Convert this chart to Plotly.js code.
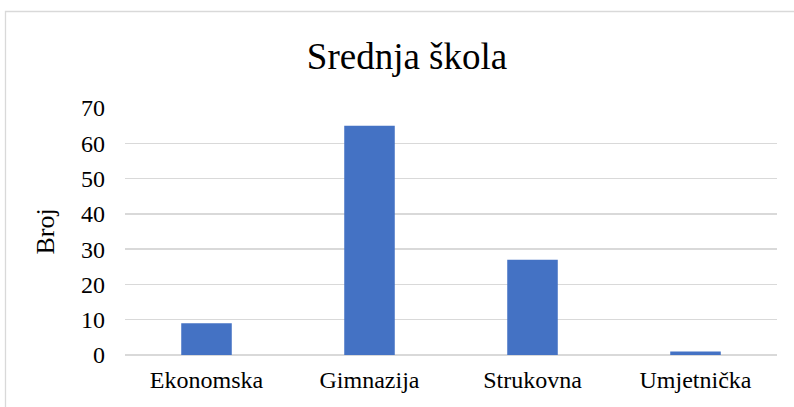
<!DOCTYPE html>
<html>
<head>
<meta charset="utf-8">
<script src="https://cdn.plot.ly/plotly-3.0.1.min.js"></script>
<style>html,body{margin:0;padding:0;background:#fff;}#chart{width:794px;height:407px;}</style>
</head>
<body>
<div id="chart"></div>
<script>
const categories = ["Ekonomska", "Gimnazija", "Strukovna", "Umjetnička"];
const counts = [9, 65, 27, 1];
const yTicks = [0, 10, 20, 30, 40, 50, 60, 70];

const SERIF = "Liberation Serif";
const W = 794, H = 407;
const m = {l: 125, r: 17, t: 108, b: 52};
const pw = W - m.l - m.r, ph = H - m.t - m.b;

const trace = {
  type: "bar",
  x: categories,
  y: counts,
  marker: {color: "#4472C4"},
  hoverinfo: "x+y"
};

const layout = {
  width: W, height: H,
  margin: m,
  paper_bgcolor: "#ffffff",
  plot_bgcolor: "#ffffff",
  font: {family: SERIF, color: "#000000", size: 24},
  title: {
    text: "Srednja škola",
    font: {size: 37, family: SERIF, color: "#000"},
    xref: "container", x: 407 / W, xanchor: "center",
    yref: "container", y: 1 - 56 / H, yanchor: "middle"
  },
  bargap: 0.69,
  showlegend: false,
  xaxis: {
    type: "category",
    showgrid: false,
    zeroline: false,
    showline: false,
    ticks: "",
    ticklabelstandoff: 8,
    tickfont: {size: 24, family: SERIF, color: "#000"}
  },
  yaxis: {
    range: [0, 70],
    tickvals: yTicks,
    ticktext: yTicks.map(String),
    showgrid: true,
    gridcolor: "#d9d9d9",
    gridwidth: 1.3,
    zeroline: true,
    zerolinecolor: "#d9d9d9",
    zerolinewidth: 1.3,
    showline: false,
    ticks: "",
    ticklabelstandoff: 19,
    tickfont: {size: 24, family: SERIF, color: "#000"},
    title: {text: "Broj", font: {size: 26, family: SERIF, color: "#000"}, standoff: 18}
  },
  shapes: [
    {
      type: "rect", xref: "paper", yref: "paper",
      x0: (5.5 - m.l) / pw, x1: (W + 10 - m.l) / pw,
      y0: -(m.b + 10) / ph, y1: (H - 11.5 - m.b) / ph,
      line: {color: "#d9d9d9", width: 1.3},
      fillcolor: "rgba(0,0,0,0)", layer: "below"
    }
  ]
};

Plotly.newPlot("chart", [trace], layout, {displayModeBar: false, staticPlot: true});
</script>
</body>
</html>
